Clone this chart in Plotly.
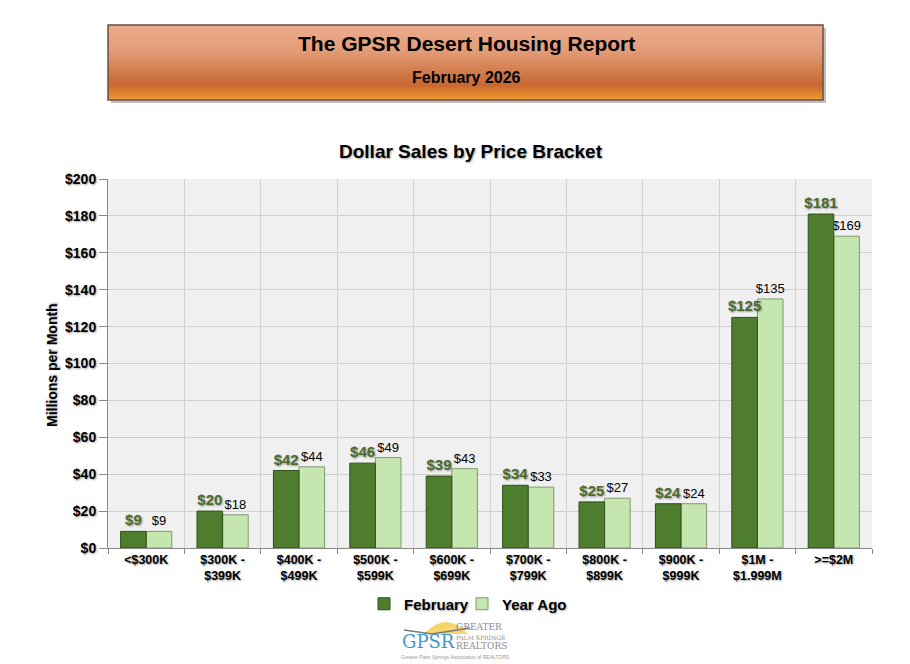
import plotly.graph_objects as go

categories = ["<$300K", "$300K -<br>$399K", "$400K -<br>$499K", "$500K -<br>$599K",
              "$600K -<br>$699K", "$700K -<br>$799K", "$800K -<br>$899K",
              "$900K -<br>$999K", "$1M -<br>$1.999M", ">=$2M"]
february = [9, 20, 42, 46, 39, 34, 25, 24, 125, 181]
year_ago = [9, 18, 44, 49, 43, 33, 27, 24, 135, 169]

OFF = 8  # page body margin
W, H = 910 - OFF, 664 - OFF
L, R, T, B = 108 - OFF, 38, 179 - OFF, 116
PW, PH = W - L - R, H - T - B
BW = 0.335


def px(x):
    return (x - OFF - L) / PW


def py(y):
    return (H - B - (y - OFF)) / PH


FONT = "Liberation Sans, Arial, sans-serif"
SHADOW = "1px 1px 2px rgba(0,0,0,0.35)"

fig = go.Figure()
# Year Ago drawn first so the February labels sit on top of it
fig.add_trace(go.Bar(
    name="Year Ago", x=categories, y=year_ago, legend="legend2",
    width=BW, offset=0,
    marker=dict(color="#c6e6af", line=dict(color="#7f9a6c", width=1)),
    text=[f"${v}" for v in year_ago], textposition="outside", cliponaxis=False,
    constraintext="none",
    textfont=dict(family=FONT, size=13, color="#000000"),
))
fig.add_trace(go.Bar(
    name="February", x=categories, y=february, legend="legend",
    width=BW, offset=-BW,
    marker=dict(color="#4e7d2e", line=dict(color="#2f4f1a", width=1)),
    text=[f"${v}" for v in february], textposition="outside", cliponaxis=False,
    constraintext="none",
    textfont=dict(family=FONT, size=15, color="#4a6a2c", weight="bold", shadow=SHADOW),
))

shapes = []
stops = [(0.0, (236, 172, 140)), (0.35, (226, 156, 120)), (0.62, (210, 124, 76)),
         (0.8, (200, 104, 52)), (0.92, (226, 134, 44)), (1.0, (238, 156, 60))]


def col(t):
    for (a, ca), (b, cb) in zip(stops[:-1], stops[1:]):
        if a <= t <= b:
            f = (t - a) / (b - a)
            c = [round(ca[i] + (cb[i] - ca[i]) * f) for i in range(3)]
            return f"rgb({c[0]},{c[1]},{c[2]})"
    return "rgb(238,156,60)"


x0, x1, y0, y1 = 108, 823, 25, 100
shapes.append(dict(type="rect", xref="paper", yref="paper", x0=px(x0 + 3), x1=px(x1 + 3),
                   y0=py(y1 + 3), y1=py(y0 + 3), fillcolor="rgba(0,0,0,0.25)", line=dict(width=0), layer="below"))
N = 60
for i in range(N):
    ya = y0 + (y1 - y0) * i / N
    yb = min(y1, y0 + (y1 - y0) * (i + 1.8) / N)
    shapes.append(dict(type="rect", xref="paper", yref="paper", x0=px(x0), x1=px(x1),
                       y0=py(yb), y1=py(ya), fillcolor=col((i + 0.5) / N), line=dict(width=0), layer="below"))
shapes.append(dict(type="rect", xref="paper", yref="paper", x0=px(x0), x1=px(x1),
                   y0=py(y1), y1=py(y0), line=dict(color="#6a5040", width=1.5), layer="below"))
# logo sun arc
shapes.append(dict(type="path", xref="paper", yref="paper",
                   path=f"M {px(424)},{py(634)} Q {px(446)},{py(610)} {px(468)},{py(634)} Z",
                   fillcolor="#f6d56e", line=dict(width=0)))
shapes.append(dict(type="path", xref="paper", yref="paper",
                   path=f"M {px(404)},{py(630)} L {px(432)},{py(634)} L {px(470)},{py(628)}",
                   line=dict(color="#7a7a7a", width=1.5)))

annotations = [
    dict(text="<b>The GPSR Desert Housing Report</b>", x=px(466), y=py(44), xref="paper", yref="paper",
         xanchor="center", yanchor="middle",
         showarrow=False, font=dict(family=FONT, size=21, color="#000")),
    dict(text="<b>February 2026</b>", x=px(466), y=py(77), xref="paper", yref="paper",
         xanchor="center", yanchor="middle",
         showarrow=False, font=dict(family=FONT, size=16, color="#000")),
    dict(text="<b>Dollar Sales by Price Bracket</b>", x=px(471), y=py(152), xref="paper", yref="paper",
         xanchor="center", yanchor="middle",
         showarrow=False, font=dict(family=FONT, size=19, color="#000", shadow=SHADOW)),
    dict(text="<b>Millions per Month</b>", x=px(52), y=py(365), xref="paper", yref="paper", textangle=-90,
         xanchor="center", yanchor="middle",
         showarrow=False, font=dict(family=FONT, size=14, color="#000", shadow=SHADOW)),
    dict(text="GPSR", x=px(428), y=py(641), xref="paper", yref="paper", showarrow=False,
         xanchor="center", yanchor="middle",
         font=dict(family="DejaVu Serif, serif", size=18, color="#3e97c8")),
    dict(text="GREATER", x=px(454), y=py(627), xref="paper", yref="paper", showarrow=False,
         xanchor="left", yanchor="middle",
         font=dict(family="DejaVu Serif, serif", size=9, color="#8a8a8a")),
    dict(text="PALM SPRINGS", x=px(454), y=py(637), xref="paper", yref="paper", showarrow=False,
         xanchor="left", yanchor="middle",
         font=dict(family="DejaVu Serif, serif", size=6, color="#8a8a8a")),
    dict(text="REALTORS", x=px(454), y=py(646), xref="paper", yref="paper", showarrow=False,
         xanchor="left", yanchor="middle",
         font=dict(family="DejaVu Serif, serif", size=9, color="#8a8a8a")),
    dict(text="Greater Palm Springs Association of REALTORS", x=px(455), y=py(657), xref="paper", yref="paper",
         xanchor="center", yanchor="middle",
         showarrow=False, font=dict(family=FONT, size=5, color="#9a9a9a")),
]

legend_font = dict(family=FONT, size=15, weight="bold", shadow=SHADOW)
fig.update_layout(
    width=W, height=H,
    margin=dict(l=L, r=R, t=T, b=B),
    paper_bgcolor="white", plot_bgcolor="#f0f0f0",
    barmode="overlay",
    font=dict(family=FONT, color="#000"),
    shapes=shapes, annotations=annotations,
    legend=dict(orientation="h", x=px(364), xanchor="left", y=py(604), yanchor="middle",
                font=legend_font, itemwidth=30, bgcolor="rgba(0,0,0,0)"),
    legend2=dict(orientation="h", x=px(462), xanchor="left", y=py(604), yanchor="middle",
                 font=legend_font, itemwidth=30, bgcolor="rgba(0,0,0,0)"),
    showlegend=True,
)
fig.update_xaxes(
    type="category", tickson="boundaries", showgrid=True, gridcolor="#d0d0d0",
    ticks="outside", ticklen=5, tickcolor="#888", showline=True, linecolor="#888",
    tickfont=dict(family=FONT, size=12.5, weight="bold", shadow=SHADOW),
    mirror=False,
)
fig.update_yaxes(
    range=[0, 200], dtick=20, tickprefix="$", showgrid=True, gridcolor="#d0d0d0",
    ticks="outside", ticklen=8, tickcolor="#888", showline=True, linecolor="#888",
    tickfont=dict(family=FONT, size=14, weight="bold", shadow=SHADOW), zeroline=False,
)

fig.write_html("out.html")
